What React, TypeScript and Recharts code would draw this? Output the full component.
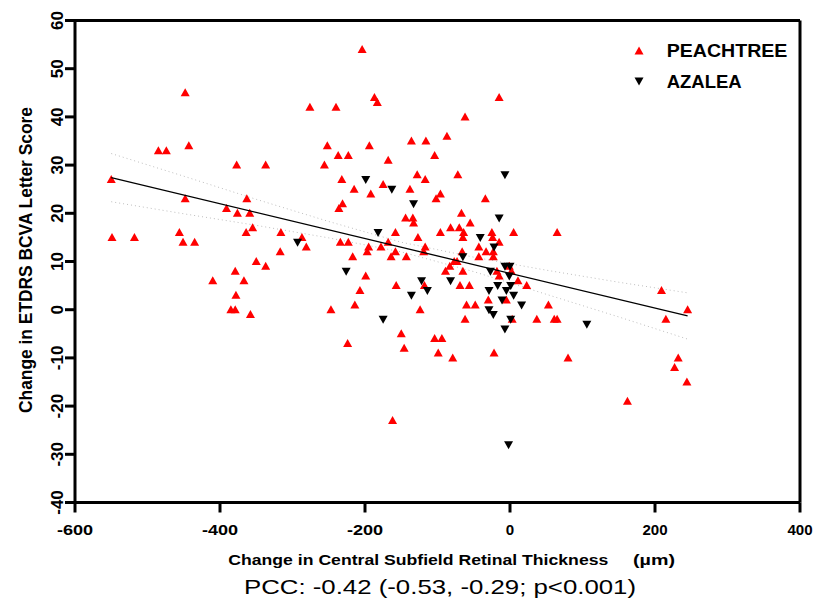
import { ScatterChart, Scatter, XAxis, YAxis, ReferenceLine } from 'recharts'

// PEACHTREE (red, upward triangles)
const peachX = [
  -448, -485, -474, -443, -377, -337, -550, -448, -391, -376,
  -359, -363, -355, -364, -316, -549, -518, -456, -451, -435,
  -317, -287, -281, -276, -350, -337, -379, -410, -367, -378,
  -385, -379, -358, -204, -187, -183, -240, -15, -62, -87,
  -136, -116, -252, -194, -237, -223, -104, -168, -256, -72,
  -128, -232, -117, -215, -175, -138, -192, -34, -96, -102,
  -231, -236, -67, -55, -144, -134, -133, -158, -127, -96,
  -82, -70, -64, -65, -25, -24, 5, 65, -234, -223,
  -195, -197, -178, -168, -158, -217, -164, -143, -117, -119,
  -43, -33, -23, -15, -66, -77, -73, -83, -65, -89,
  -43, -23, -18, -15, -1, 2, 11, 23, -5, -30,
  3, -22, -162, -60, -48, -62, 53, 37, 61, 65,
  -199, -207, -157, -118, -69, -56, -247, -214, -124, -224,
  -150, -146, -104, -94, -99, -79, 209, 245, 215, 80,
  232, 227, 244, 162,
]
const peachY = [
  45, 33, 33, 34, 30, 30, 27, 23, 21, 20,
  20, 23, 17, 16, 16, 15, 15, 16, 14, 14,
  12, 15, 13, 42, 10, 9, 8, 6, 6, 3,
  0, 0, -1, 54, 44, 43, 42, 44, 40, 36,
  35, 35, 34, 34, 32, 32, 32, 31, 30, 28,
  28, 27, 27, 25, 26, 25, 24, 23, 24, 23,
  22, 21, 20, 18, 19, 19, 18, 16, 15, 16,
  17, 17, 16, 15, 16, 15, 16, 16, 14, 14,
  13, 12, 13, 14, 12, 11, 11, 11, 13, 12,
  13, 12, 12, 14, 12, 10, 10, 9, 8, 8,
  11, 11, 8, 7, 9, 8, 6, 5, 2, 2,
  -2, -9, -23, 1, 1, -2, 1, -2, -2, -2,
  7, 4, 5, 5, 5, 5, 0, 1, 0, -7,
  -5, -8, -6, -6, -9, -10, 4, 0, -2, -10,
  -10, -12, -15, -19,
]

// AZALEA (black, downward triangles)
const azaleaX = [
  -293, -7, -199, -163, -133, -15, -182, -41, -22, -65,
  -27, -7, 0, -1, -17, 1, -29, -5, 5, -11,
  16, -29, -23, 1, -7, -2, 106, -226, -122, -114,
  -136, -82, -175,
]
const azaleaY = [
  14, 28, 27, 25, 22, 19, 16, 15, 13, 11,
  8, 9, 9, 7, 5, 5, 4, 4, 3, 2,
  1, 0, -1, -2, -4, -28, -3, 8, 6, 4,
  3, 6, -2,
]

// regression line and its 95% band
const fitX = [-550, 245]
const fitY = [27.4, -1.3]
const bandX = [-550, -450, -350, -250, -150, -50, 50, 150, 245]
const bandUpper = [32.4, 27.7, 22.9, 18.3, 14.0, 10.9, 8.2, 5.7, 3.5]
const bandLower = [22.4, 19.9, 17.5, 14.9, 12.0, 7.9, 3.2, -1.5, -6.1]

const xTicks = [-600, -400, -200, 0, 200, 400]
const yTicks = [-40, -30, -20, -10, 0, 10, 20, 30, 40, 50, 60]

const zip = (xs: number[], ys: number[]) => xs.map((x, i) => ({ x, y: ys[i] }))

const peach = zip(peachX, peachY)
const azalea = zip(azaleaX, azaleaY)
const fit = zip(fitX, fitY)
const upper = zip(bandX, bandUpper)
const lower = zip(bandX, bandLower)

const FONT = '"Liberation Sans", Arial, sans-serif'

const UpTri = (p: any) => (
  <polygon
    points={`${p.cx},${p.cy - 4.5} ${p.cx + 4.5},${p.cy + 3.5} ${p.cx - 4.5},${p.cy + 3.5}`}
    fill="#ff0000"
  />
)
const DownTri = (p: any) => (
  <polygon
    points={`${p.cx - 4.5},${p.cy - 3.5} ${p.cx + 4.5},${p.cy - 3.5} ${p.cx},${p.cy + 4.5}`}
    fill="#000"
  />
)
const NoDot = () => <g />

const XTick = ({ x, y, payload }: any) => {
  const s = String(payload.value)
  const w = s.replace('-', '').length * 8.4 + (s.startsWith('-') ? 11 : 0)
  return (
    <text x={x} y={y + 20} textAnchor="middle" fontSize={14.5} fontWeight="bold"
      fontFamily={FONT} fill="#000" textLength={w} lengthAdjust="spacingAndGlyphs">
      {s}
    </text>
  )
}

const YTick = ({ x, y, payload }: any) => (
  <text transform={`translate(${x},${y}) rotate(-90)`} textAnchor="middle" fontSize={17}
    fontWeight="bold" fontFamily={FONT} fill="#000">
    {payload.value}
  </text>
)

export default function App() {
  return (
    <div style={{ position: 'absolute', left: 0, top: 0, width: 818, height: 610, background: '#fff' }}>
      <ScatterChart width={818} height={610} margin={{ top: 20.5, right: 18, bottom: 67.5, left: 15 }}>
        <XAxis
          type="number"
          dataKey="x"
          domain={[-600, 400]}
          ticks={xTicks}
          allowDataOverflow
          height={40}
          tickSize={10}
          axisLine={{ stroke: '#000', strokeWidth: 3 }}
          tickLine={{ stroke: '#000', strokeWidth: 3 }}
          tick={<XTick />}
        />
        <YAxis
          type="number"
          dataKey="y"
          domain={[-40, 60]}
          ticks={yTicks}
          allowDataOverflow
          width={60}
          tickSize={10}
          axisLine={{ stroke: '#000', strokeWidth: 3 }}
          tickLine={{ stroke: '#000', strokeWidth: 3 }}
          tick={<YTick />}
        />
        <ReferenceLine y={60} stroke="#000" strokeWidth={3} />
        <ReferenceLine x={400} stroke="#000" strokeWidth={3} />
        <Scatter data={upper} line={{ stroke: '#bdbdbd', strokeWidth: 1, strokeDasharray: '1 3' }}
          shape={NoDot} isAnimationActive={false} />
        <Scatter data={lower} line={{ stroke: '#bdbdbd', strokeWidth: 1, strokeDasharray: '1 3' }}
          shape={NoDot} isAnimationActive={false} />
        <Scatter data={peach} shape={UpTri} isAnimationActive={false} />
        <Scatter data={azalea} shape={DownTri} isAnimationActive={false} />
        <Scatter data={fit} line={{ stroke: '#000', strokeWidth: 1.3 }} shape={NoDot}
          isAnimationActive={false} />
      </ScatterChart>
      <svg width={818} height={610} style={{ position: 'absolute', left: 0, top: 0, pointerEvents: 'none' }}>
        <g fontFamily={FONT} fill="#000">
          <polygon points="639,46.5 643.5,54.5 634.5,54.5" fill="#ff0000" />
          <text x={666.7} y={57.3} fontSize={19} fontWeight="bold" textLength={120.7}
            lengthAdjust="spacingAndGlyphs">PEACHTREE</text>
          <polygon points="634.5,77.5 643.5,77.5 639,85.5" fill="#000" />
          <text x={666.7} y={87.7} fontSize={19} fontWeight="bold" textLength={75}
            lengthAdjust="spacingAndGlyphs">AZALEA</text>
          <text transform="translate(32,260) rotate(-90)" textAnchor="middle" fontSize={18}
            fontWeight="bold" textLength={306} lengthAdjust="spacingAndGlyphs">
            Change in ETDRS BCVA Letter Score
          </text>
          <text x={228.3} y={565} fontSize={15} fontWeight="bold" textLength={380}
            lengthAdjust="spacingAndGlyphs">Change in Central Subfield Retinal Thickness</text>
          <text x={633} y={565} fontSize={15} fontWeight="bold" textLength={42}
            lengthAdjust="spacingAndGlyphs">(µm)</text>
          <text x={244} y={594} fontSize={21} textLength={392}
            lengthAdjust="spacingAndGlyphs">PCC: -0.42 (-0.53, -0.29; p&lt;0.001)</text>
        </g>
      </svg>
    </div>
  )
}
